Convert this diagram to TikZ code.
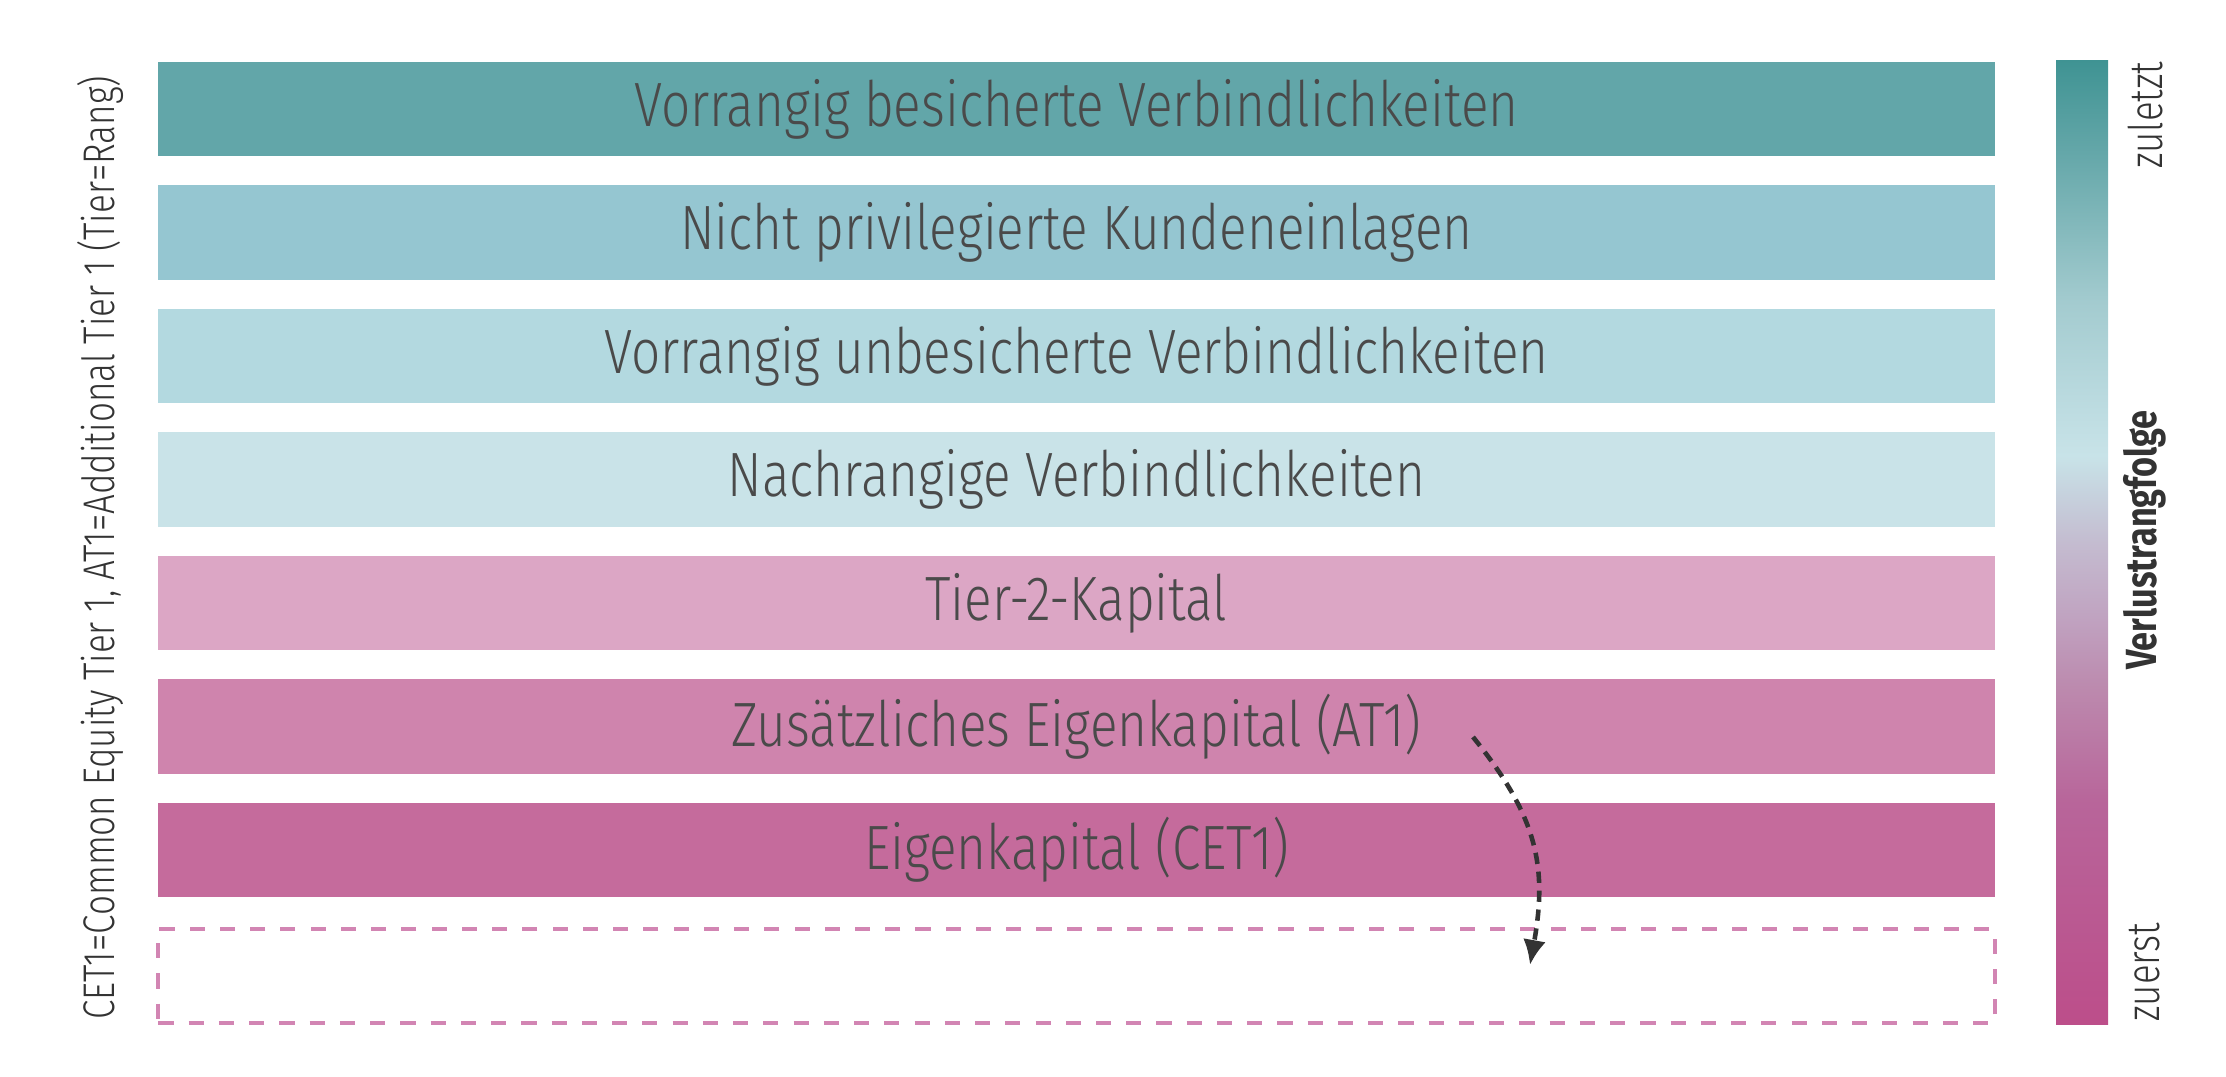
\documentclass[tikz,border=0pt]{standalone}
\usepackage{fontspec}
\setmainfont{Fira Sans Light}[FakeStretch=0.82]
\newfontfamily\sidelabel{Fira Sans Light}[FakeStretch=0.79]
\newfontfamily\boldlabel{Fira Sans}[FakeStretch=0.785]
\usepackage{tikz}
\usetikzlibrary{arrows.meta}

\definecolor{tierA}{HTML}{62A6A9}
\definecolor{tierB}{HTML}{95C6D1}
\definecolor{tierC}{HTML}{B3D9E0}
\definecolor{tierD}{HTML}{C9E3E8}
\definecolor{tierE}{HTML}{DCA6C5}
\definecolor{tierF}{HTML}{CF84AD}
\definecolor{tierG}{HTML}{C56B9C}
\definecolor{tierline}{HTML}{D285B3}
\definecolor{labeltext}{HTML}{4A4A4A}

\definecolor{sh0}{HTML}{BC4E8A}
\definecolor{sh1}{HTML}{B8659A}
\definecolor{sh2}{HTML}{BC8AAE}
\definecolor{sh3}{HTML}{C0A2C0}
\definecolor{sh4}{HTML}{C4BCD0}
\definecolor{sh5}{HTML}{C8E3E8}
\definecolor{sh6}{HTML}{BADADF}
\definecolor{sh7}{HTML}{A3CBCF}
\definecolor{sh8}{HTML}{66A8AA}
\definecolor{sh9}{HTML}{3F9393}

\pgfdeclareverticalshading{lossorder}{100bp}{color(0bp)=(sh0); color(25bp)=(sh0);
 color(36.5bp)=(sh1); color(42.5bp)=(sh2); color(46bp)=(sh3); color(50bp)=(sh4);
 color(54.5bp)=(sh5); color(57.5bp)=(sh6); color(62.5bp)=(sh7); color(70bp)=(sh8);
 color(75bp)=(sh9); color(100bp)=(sh9)}

\tikzset{
 tier/.style={minimum width=18.35cm, minimum height=0.94cm, inner sep=0pt,
  text=labeltext, font=\fontsize{17.8pt}{20pt}\selectfont},
 sidetext/.style={rotate=90, inner sep=0pt, text=black!80,
  font=\sidelabel\fontsize{12.6pt}{14pt}\selectfont}
}

\begin{document}
\begin{tikzpicture}[x=0.01cm, y=-0.01cm]

 \useasboundingbox (0,0) rectangle (2226,1077);

 \node[tier, fill=tierA] (t1) at (1076.5,109) {Vorrangig besicherte Verbindlichkeiten};

 \node[tier, fill=tierB] (t2) at (1076.5,232.5) {Nicht privilegierte Kundeneinlagen};

 \node[tier, fill=tierC] (t3) at (1076.5,356) {Vorrangig unbesicherte Verbindlichkeiten};

 \node[tier, fill=tierD] (t4) at (1076.5,479.5) {Nachrangige Verbindlichkeiten};

 \node[tier, fill=tierE] (t5) at (1076.5,603) {Tier-2-Kapital};

 \node[tier, fill=tierF] (t6) at (1076.5,726.5) {Zusätzliches Eigenkapital (AT1)};

 \node[tier, fill=tierG] (t7) at (1076.5,850) {Eigenkapital (CET1)};

 \node[tier, draw=tierline, line width=1.15pt, dash pattern=on 4.3pt off 4.3pt] (t8) at (1076.5,976) {};

 \node[sidetext] (note) at (100,548) {CET1=Common Equity Tier 1, AT1=Additional Tier 1 (Tier=Rang)};

 \node[minimum width=0.52cm, minimum height=9.63cm, inner sep=0pt, shading=lossorder] (scale) at (2082,542.5) {};

 \node[sidetext, anchor=east, font=\sidelabel\fontsize{13.2pt}{14pt}\selectfont] (last) at (2145,61) {zuletzt};
 \node[sidetext, anchor=west, font=\sidelabel\fontsize{13.2pt}{14pt}\selectfont] (first) at (2145,1022) {zuerst};
 \node[sidetext, font=\boldlabel\bfseries\fontsize{12.4pt}{14pt}\selectfont] (order) at (2145,540) {Verlustrangfolge};

 \coordinate (from) at (1473,737);
 \coordinate (to) at (1530,965);

 \draw[black!80, line width=1.3pt, dash pattern=on 3.2pt off 2.2pt, -{Latex[length=0.25cm, width=0.23cm]}]
  (from) .. controls (1536,815) and (1548,865) .. (to);

\end{tikzpicture}
\end{document}
